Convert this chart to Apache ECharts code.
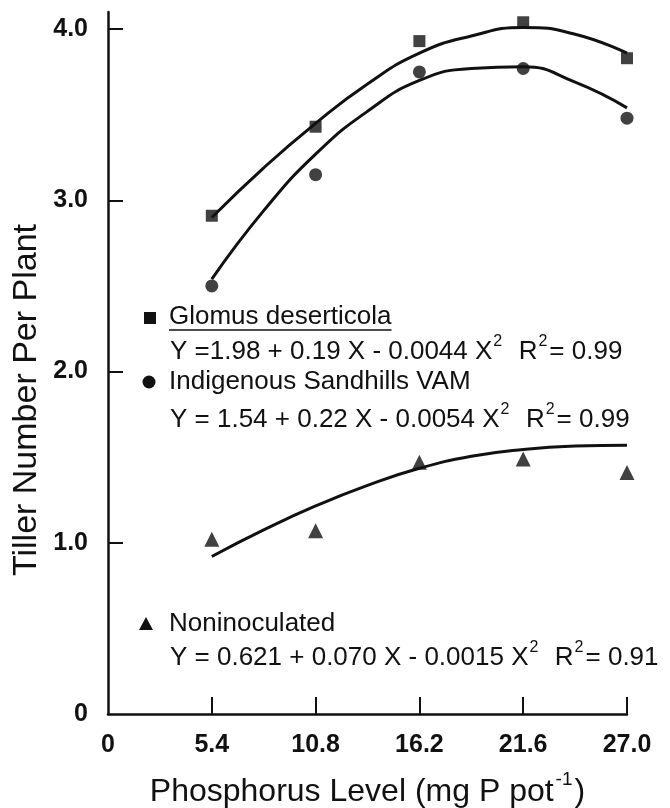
<!DOCTYPE html>
<html>
<head>
<meta charset="utf-8">
<script src="https://cdn.jsdelivr.net/npm/echarts@6/dist/echarts.min.js"></script>
<style>
  html, body { margin: 0; padding: 0; background: #fff; }
  #tillerChart { width: 670px; height: 808px; }
</style>
</head>
<body>
<div id="tillerChart"></div>
<script>
  var phosphorus = [5.4, 10.8, 16.2, 21.6, 27.0]
  var glomusObs = [2.91, 3.43, 3.93, 4.04, 3.83]
  var sandhillsObs = [2.50, 3.15, 3.75, 3.77, 3.48]
  var noninocObs = [1.02, 1.07, 1.47, 1.49, 1.41]

  // regression curves as drawn in the figure
  var fitX = [5.4, 8.1, 10.8, 13.5, 16.2, 18.9, 21.6, 24.3, 27.0]
  var glomusFit = [2.90, 3.19, 3.45, 3.68, 3.86, 3.96, 4.01, 3.97, 3.86]
  var sandhillsFit = [2.54, 2.94, 3.27, 3.52, 3.70, 3.77, 3.78, 3.69, 3.54]
  var noninocFit = [0.92, 1.075, 1.215, 1.335, 1.435, 1.505, 1.545, 1.565, 1.57]

  var xTickLabels = [0, 5.4, 10.8, 16.2, 21.6, 27.0]
  var yTickLabels = [0, 1, 2, 3, 4]

  var ink = '#111'
  var font = 'Liberation Sans'

  function pairs (xs, ys) {
    var out = []
    for (var i = 0; i < xs.length; i++) {
      out.push([xs[i], ys[i]])
    }
    return out
  }

  function tickText (v) {
    return v === 0 ? '0' : v.toFixed(1)
  }

  function textWidth (str, size) {
    var ctx = document.createElement('canvas').getContext('2d')
    ctx.font = size + 'px "' + font + '"'
    return ctx.measureText(str).width
  }

  var supStyle = { fontSize: 16, fontFamily: font, fill: ink, verticalAlign: 'top', padding: [0, 2, 0, 1] }

  function note (x, y, str) {
    return {
      type: 'text',
      x: x,
      y: y,
      style: {
        text: str,
        fontSize: 26,
        lineHeight: 36,
        fontFamily: font,
        fill: ink,
        align: 'left',
        verticalAlign: 'middle',
        rich: { s: supStyle }
      }
    }
  }

  var myChart = echarts.init(document.getElementById('tillerChart'))

  var series = [
    {
      name: 'Glomus deserticola fit',
      type: 'line',
      smooth: true,
      symbol: 'none',
      lineStyle: { color: ink, width: 3 },
      data: pairs(fitX, glomusFit)
    },
    {
      name: 'Indigenous Sandhills VAM fit',
      type: 'line',
      smooth: true,
      symbol: 'none',
      lineStyle: { color: ink, width: 3 },
      data: pairs(fitX, sandhillsFit)
    },
    {
      name: 'Noninoculated fit',
      type: 'line',
      smooth: true,
      symbol: 'none',
      lineStyle: { color: ink, width: 3 },
      data: pairs(fitX, noninocFit)
    },
    {
      name: 'Glomus deserticola',
      type: 'scatter',
      symbol: 'rect',
      symbolSize: 12,
      itemStyle: { color: ink },
      data: pairs(phosphorus, glomusObs)
    },
    {
      name: 'Indigenous Sandhills VAM',
      type: 'scatter',
      symbol: 'circle',
      symbolSize: 13,
      itemStyle: { color: ink },
      data: pairs(phosphorus, sandhillsObs)
    },
    {
      name: 'Noninoculated',
      type: 'scatter',
      symbol: 'triangle',
      symbolSize: 15,
      itemStyle: { color: ink },
      data: pairs(phosphorus, noninocObs)
    }
  ]

  var glomusLabel = 'Glomus deserticola'

  var option = {
    animation: false,
    backgroundColor: '#fff',
    grid: {
      left: 108,
      right: 43,
      top: 12,
      bottom: 94,
      outerBoundsMode: 'none'
    },
    xAxis: {
      type: 'value',
      min: 0,
      max: 27,
      name: 'Phosphorus Level (mg P pot{s|-1})',
      nameLocation: 'middle',
      nameGap: 56,
      nameTextStyle: {
        fontSize: 32,
        lineHeight: 44,
        fontFamily: font,
        color: ink,
        rich: { s: { fontSize: 19, fontFamily: font, color: ink, verticalAlign: 'top', padding: [0, 2, 0, 2] } }
      },
      axisLine: { onZero: false, lineStyle: { color: ink, width: 2.5 } },
      axisTick: { inside: true, length: 17, customValues: [5.4, 10.8, 16.2, 21.6, 27.0], lineStyle: { color: ink, width: 2 } },
      axisLabel: {
        customValues: xTickLabels,
        formatter: tickText,
        margin: 19,
        fontSize: 25,
        fontWeight: 'bold',
        fontFamily: font,
        color: ink
      },
      splitLine: { show: false }
    },
    yAxis: {
      type: 'value',
      min: 0,
      max: 4.1,
      axisLine: { lineStyle: { color: ink, width: 2.5 } },
      axisTick: { inside: true, length: 15, customValues: [1, 2, 3, 4], lineStyle: { color: ink, width: 2 } },
      axisLabel: {
        customValues: yTickLabels,
        formatter: tickText,
        margin: 20,
        fontSize: 25,
        fontWeight: 'bold',
        fontFamily: font,
        color: ink
      },
      splitLine: { show: false }
    },
    graphic: [
      {
        type: 'text',
        x: 27,
        y: 400,
        rotation: Math.PI / 2,
        style: {
          text: 'Tiller Number Per Plant',
          fontSize: 34,
          fontFamily: font,
          fill: ink,
          align: 'center',
          verticalAlign: 'middle'
        }
      },
      { type: 'rect', shape: { x: 144, y: 312, width: 12, height: 12 }, style: { fill: ink } },
      note(169, 317, glomusLabel),
      { type: 'line', shape: { x1: 169, y1: 330, x2: 169 + textWidth(glomusLabel, 26), y2: 330 }, style: { stroke: ink, lineWidth: 1.5 } },
      note(170, 352, 'Y =1.98 + 0.19 X - 0.0044 X{s|2}  R{s|2}= 0.99'),
      { type: 'circle', shape: { cx: 149, cy: 382, r: 6.5 }, style: { fill: ink } },
      note(169, 382, 'Indigenous Sandhills VAM'),
      note(170, 420, 'Y = 1.54 + 0.22 X - 0.0054 X{s|2}  R{s|2}= 0.99'),
      { type: 'polygon', shape: { points: [[146, 617], [153, 630], [139, 630]] }, style: { fill: ink } },
      note(169, 624, 'Noninoculated'),
      note(170, 658, 'Y = 0.621 + 0.070 X - 0.0015 X{s|2}  R{s|2}= 0.91')
    ],
    series: series
  }

  myChart.setOption(option)
</script>
</body>
</html>
